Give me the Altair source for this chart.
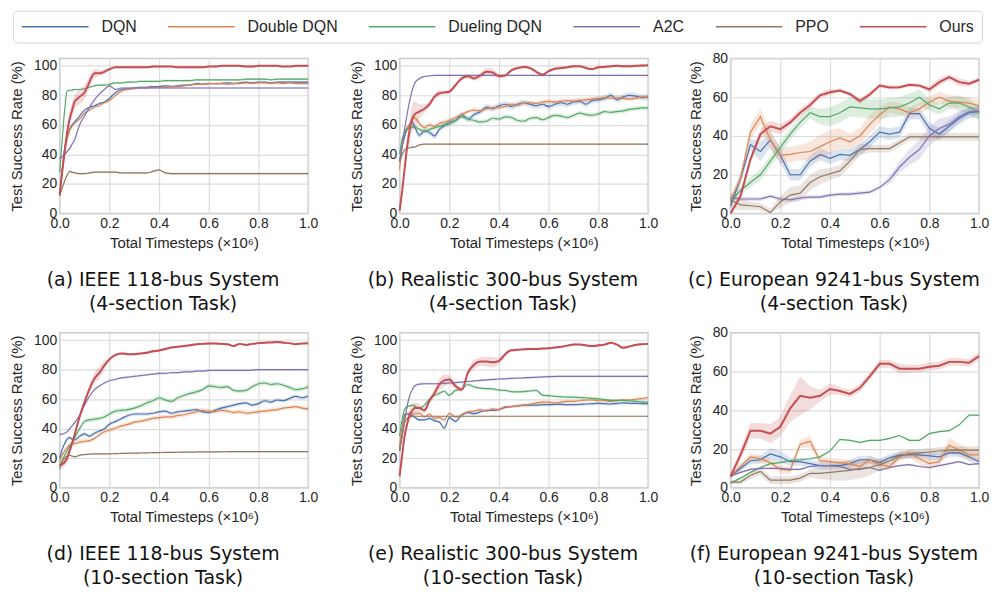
import altair as alt
import pandas as pd

ALGOS = ["DQN", "Double DQN", "Dueling DQN", "A2C", "PPO", "Ours"]
COLORS = ["#4C72B0", "#DD8452", "#55A868", "#8172B3", "#937860", "#C44E52"]
THIN, THICK = 1.2, 2.0

X_TICKS = [0.0, 0.2, 0.4, 0.6, 0.8, 1.0]
Y_TICKS_100 = [0, 20, 40, 60, 80, 100]
Y_TICKS_80 = [0, 20, 40, 60, 80]

X_DENSE = [0.0, 0.01, 0.02, 0.03, 0.04, 0.05, 0.06, 0.08, 0.10, 0.12, 0.14, 0.16, 0.18, 0.20,
           0.225, 0.25, 0.275, 0.30, 0.325, 0.35, 0.375, 0.40,
           0.425, 0.45, 0.475, 0.50, 0.525, 0.55, 0.575, 0.60,
           0.625, 0.65, 0.675, 0.70, 0.725, 0.75, 0.775, 0.80,
           0.825, 0.85, 0.875, 0.90, 0.925, 0.95, 0.975, 1.0]
X_SPARSE = [0.0, 0.04, 0.08, 0.12, 0.16, 0.2, 0.24, 0.28, 0.32, 0.36, 0.4, 0.44, 0.48,
            0.52, 0.56, 0.6, 0.64, 0.68, 0.72, 0.76, 0.8, 0.84, 0.88, 0.92, 0.96, 1.0]

# ---------------- (a) IEEE 118-bus, 4-section ----------------
A_DQN = [12, 30, 44, 52, 57, 60, 62, 66, 70, 72, 73, 74.5, 75.5, 78,
         82, 84, 84.5, 85, 85.5, 85.5, 86, 86,
         86.5, 86, 86.5, 87, 87, 88, 87.5, 88,
         88, 88, 88.5, 88, 88.5, 89, 88.5, 89,
         89, 88.5, 89, 89, 89, 89, 89, 89]
A_DDQN = [12, 28, 42, 50, 56, 59, 61, 64, 68, 70, 72, 73, 75, 76.5,
          80, 83, 84, 84.5, 85, 85, 85.5, 85.5,
          85.5, 86, 86, 86.5, 87, 87.5, 87.5, 88,
          88, 88, 87.5, 88, 88, 88.5, 88, 88.5,
          88.5, 88, 88.5, 88, 88.5, 88, 88, 88]
A_DUEL = [28, 50, 70, 83, 83.5, 83.5, 84, 84, 84.5, 85.5, 86.5, 87, 87, 87.5,
          88.5, 88.5, 89, 89, 89.5, 89.5, 89.5, 89.5,
          90, 90, 90, 90, 90, 90.5, 90.5, 90.5,
          90.5, 90.5, 90.5, 90.5, 90.5, 91, 91, 91,
          91, 90.5, 91, 91, 91, 91, 91, 91]
A_A2C = [37, 38.5, 40, 42, 44, 47, 50, 60, 66, 72, 77, 81, 84, 86.5,
         84, 85, 85, 85, 85, 85, 85, 85,
         85, 85, 85, 85, 85, 85, 85, 85,
         85, 85, 85, 85, 85, 85, 85, 85,
         85, 85, 85, 85, 85, 85, 85, 85]
A_PPO = [12, 17, 22, 26, 28.5, 28, 27.5, 27, 27, 27.5, 28, 28, 28, 28,
         28, 27.5, 27.5, 27.5, 27.5, 27.5, 28.5, 29.5,
         27.5, 27, 27, 27, 27, 27, 27, 27,
         27, 27, 27, 27, 27, 27, 27, 27,
         27, 27, 27, 27, 27, 27, 27, 27]
A_OURS = [13, 28, 42, 55, 64, 70, 75.6, 79, 82, 89, 95, 95, 96, 97.7,
          99, 99, 99, 99, 99, 99, 99.5, 99.5,
          99.5, 99.5, 99, 99, 99, 99, 99, 99.5,
          99.5, 100, 100, 100, 100, 99.5, 99.5, 100,
          100, 100, 100, 99.5, 99.5, 100, 100, 100]
A_OURS_SD = [1, 2, 3, 4, 5, 5, 5, 5, 5, 4, 3, 2, 1.5, 1,
             0.8, 0.8, 0.6, 0.6, 0.6, 0.6, 0.6, 0.6,
             0.6, 0.6, 0.6, 0.6, 0.6, 0.6, 0.6, 0.6,
             0.6, 0.6, 0.6, 0.6, 0.6, 0.6, 0.6, 0.6,
             0.6, 0.6, 0.6, 0.6, 0.6, 0.6, 0.6, 0.6]
A_SPREAD = [0.7, 0.7, 0.7, 0.7, 0.7]

# ---------------- (b) Realistic 300-bus, 4-section ----------------
B_DQN = [35, 45, 52, 57, 60, 62, 59, 53, 56, 55, 52.5, 57, 59.5, 62,
         63, 67, 64, 67, 69, 72, 71, 73,
         74, 72.5, 74, 75, 74, 73, 74, 72.5,
         74, 75, 74, 75.5, 76, 74, 76.5, 77,
         78, 80, 77, 79, 80, 79.5, 78.5, 79]
B_DDQN = [30, 45, 55, 58, 60, 63, 65, 61, 58, 60, 59, 61, 62, 63,
          65, 67, 69, 70, 69.5, 71, 71.5, 72,
          72.5, 74, 73.5, 75, 75, 74.5, 75.5, 76,
          75.5, 76, 76.5, 76, 76.5, 77, 77.5, 78,
          78.5, 78, 78.5, 78, 77.5, 78, 79, 79]
B_DUEL = [40, 50, 55, 57, 58, 58.5, 58.5, 57, 55.5, 57, 58, 59, 60, 60.5,
          63, 65.5, 64, 63, 62, 62.5, 64.5, 64,
          65.5, 65, 63, 62.5, 64.5, 65, 63.5, 65,
          66.5, 66, 65, 66.5, 68, 67, 66.5, 67.5,
          69, 68.5, 69, 69.5, 70.5, 71, 71.5, 71.5]
B_A2C = [35, 45, 57, 67, 76, 83, 88, 91.5, 92.8, 93.2, 93.5, 93.5, 93.5, 93.5,
         93.5, 93.5, 93.5, 93.5, 93.5, 93.5, 93.5, 93.5,
         93.5, 93.5, 93.5, 93.5, 93.5, 93.5, 93.5, 93.5,
         93.5, 93.5, 93.5, 93.5, 93.5, 93.5, 93.5, 93.5,
         93.5, 93.5, 93.5, 93.5, 93.5, 93.5, 93.5, 93.5]
B_PPO = [35, 40, 43, 44, 44.5, 45, 45, 46.5, 47, 47, 47, 47, 47, 47,
         47, 47, 47, 47, 47, 47, 47, 47,
         47, 47, 47, 47, 47, 47, 47, 47,
         47, 47, 47, 47, 47, 47, 47, 47,
         47, 47, 47, 47, 47, 47, 47, 47]
B_OURS = [2, 15, 30, 45, 56, 64, 67, 69, 71, 74, 79, 81.5, 82, 82.5,
          87, 91.5, 93, 91.5, 93.5, 96, 95.5, 93,
          93.5, 97, 98.5, 99.3, 98.5, 96, 94, 96.5,
          98, 98.5, 99, 99.8, 99.8, 98.5, 97.8, 99,
          99.3, 99.8, 100, 99.8, 99.8, 100, 100.2, 100.4]
B_OURS_SD = [1, 2, 4, 6, 8, 9, 9, 5, 3, 2, 2, 2, 1.5, 1.5,
             1.5, 1.5, 1.5, 1.5, 2, 2.5, 2.5, 1.5,
             1, 1, 1, 1, 1, 1, 1, 1,
             1, 1, 1, 1, 1, 1, 1, 1,
             1, 1, 1, 1, 1, 1, 1, 1]
B_SPREAD = [2.0, 1.5, 1.5, 0.5, 0.5]

# ---------------- (c) European 9241-bus, 4-section ----------------
C_DQN = [4, 18, 35.5, 32, 38, 30, 20, 20, 27, 30.5, 28.5, 30.5, 30,
         33, 37, 42, 41, 42, 51.5, 51.5, 44, 41, 45, 49, 52, 52.5]
C_DDQN = [7, 18, 42, 50, 38, 30, 30.5, 31.5, 32, 34.5, 37, 39, 37,
          40, 46, 51, 55, 54, 52, 54, 57.5, 60, 58, 57.5, 57, 55.5]
C_DUEL = [6, 12, 16, 20, 27, 34, 41, 47, 52, 50, 50, 52, 55,
          54.5, 54, 54, 54.5, 55, 57, 60, 56, 54, 57, 57, 55, 52]
C_A2C = [8, 7.5, 7.5, 7.5, 9, 7.5, 7, 8, 8.5, 8.5, 9.5, 10, 10,
         10.5, 11, 13.5, 17.5, 24, 29, 33, 40, 44, 46, 50, 52.5, 53]
C_PPO = [7, 4.5, 4, 3.5, 0.5, 6, 9.5, 10.5, 16, 19, 20.5, 22, 27,
         33, 33.5, 33.5, 33.5, 36.5, 39.5, 39.5, 39.5, 39.5, 39.5, 39.5, 39.5, 39.5]
C_OURS = [0, 9, 28, 41, 45, 43.5, 47, 52, 56, 61, 62.6, 63.5, 61.7,
          58, 61.4, 66, 65, 65.2, 66.4, 66, 64, 67.8, 70.4, 67.8, 67, 69]
C_DQN_SD = [2, 3, 3, 5, 4, 4, 3, 3, 3, 3, 3, 3, 3, 3, 3, 3, 3, 3, 3, 3, 3, 3, 3, 3, 3, 3]
C_DDQN_SD = [2, 3, 4, 4, 5, 4, 4, 4, 5, 6, 6, 5, 4, 4, 5, 4, 3, 3, 3, 3, 3, 3, 3, 3, 3, 3]
C_DUEL_SD = [2, 2, 2.5, 3, 3, 3, 3, 3, 3, 4, 5, 5, 5, 5, 5, 5, 5, 5, 5, 4, 3, 3, 3, 4, 4, 4]
C_A2C_SD = [1, 1, 1, 1, 1, 1, 1, 1, 1, 1, 1, 1, 1, 1, 1, 1, 2, 3, 4, 5, 5, 5, 4, 3, 2, 2]
C_PPO_SD = [4, 3, 2, 2, 2, 3, 4, 4, 4, 4, 3, 3, 3, 3, 2, 2, 2, 2, 2, 2, 2, 2, 2, 2, 2, 2]
C_OURS_SD = [1, 1.5, 2, 2.5, 3, 2.5, 2, 2, 2, 1.5, 1.5, 1, 1, 1.5, 1.5, 1, 1, 1, 1, 1,
             1.5, 2, 1.5, 2, 1.5, 1]

# ---------------- (d) IEEE 118-bus, 10-section ----------------
D_DQN = [20, 26, 30, 33, 34, 33, 32.5, 35, 36.5, 35, 37, 38.5, 40, 43,
         45, 47, 49, 50, 50, 50, 50.5, 51.5,
         52, 50.5, 51.5, 52, 52.5, 53, 51.5, 51,
         52.5, 54, 55, 56, 57, 57.5, 56, 57,
         59, 58, 59.5, 59, 60.5, 62, 61, 62]
D_DDQN = [18, 22, 25, 27, 29, 30, 30, 31, 31.5, 32, 33.5, 36, 38, 39,
          40.5, 42, 43, 44.5, 45, 46, 47, 47.5,
          48, 48, 49, 49.5, 50.5, 51.5, 52.5, 52,
          51.5, 52.5, 52, 51, 51.5, 50.5, 51, 51.5,
          52, 52.5, 53, 54, 54.5, 55, 54, 53.5]
D_DUEL = [13, 18, 22, 25, 28, 31, 34, 40, 45, 46, 46.5, 47, 48, 50,
          52, 52.5, 53, 54, 55.5, 57.5, 59, 61,
          59.5, 58.5, 61, 62.5, 64, 65, 66.5, 69,
          68.5, 68, 68.5, 66, 65.5, 66, 68.5, 70.5,
          71, 70, 70.5, 69.5, 68, 66.5, 67, 68.5]
D_A2C = [36, 36.5, 37, 38, 40, 42, 44, 49, 56, 62, 66.5, 69, 71, 72.5,
         73.5, 74.5, 75, 75.5, 76, 76.5, 77, 77.5,
         77.5, 78, 78, 78.5, 78.5, 79, 79, 79.5,
         79.5, 79.5, 79.5, 79.5, 79.5, 79.5, 79.7, 80,
         80, 80, 80, 80, 80, 80, 80, 80]
D_PPO = [15, 18, 20, 21.5, 22, 21.5, 21, 22, 22.5, 22.8, 23, 23, 23, 23,
         23.2, 23.3, 23.4, 23.5, 23.6, 23.7, 23.8, 23.9,
         24, 24, 24.1, 24.2, 24.2, 24.3, 24.3, 24.4,
         24.4, 24.4, 24.5, 24.5, 24.5, 24.5, 24.5, 24.5,
         24.5, 24.5, 24.5, 24.5, 24.5, 24.5, 24.5, 24.5]
D_OURS = [15, 16, 17.5, 20, 25, 30, 36, 48, 58, 67, 74, 78, 83, 87,
          90, 91, 90.5, 90.5, 91, 91.5, 92.5, 93,
          94, 95, 95.5, 96, 96.5, 97.3, 97.5, 97.7,
          97.7, 97.5, 97.3, 96, 97.5, 96.8, 97.5, 98,
          98.3, 98.5, 98.8, 98.3, 98, 97.3, 97.8, 98]
D_OURS_SD = [3, 3, 3, 3, 2.5, 2, 2, 2, 2, 3, 4, 4, 3, 1.5,
             1, 1, 0.8, 0.8, 0.8, 0.8, 0.8, 0.8,
             0.8, 0.8, 0.8, 0.8, 0.8, 0.8, 0.8, 0.8,
             0.8, 0.8, 0.8, 0.8, 0.8, 0.8, 0.8, 0.8,
             0.8, 0.8, 0.8, 0.8, 0.8, 0.8, 0.8, 0.8]
D_SPREAD = [1.2, 1.5, 1.5, 0.7, 0.5]

# ---------------- (e) Realistic 300-bus, 10-section ----------------
E_DQN = [25, 40, 49.5, 50, 49.5, 49, 48, 46, 46, 47, 45.5, 44.5, 40.5, 47.5,
         45, 49.5, 51, 50.2, 51.5, 52.5, 52.5, 53,
         54.5, 55, 55.5, 56, 56, 56, 56.3, 56.3,
         56.5, 56.5, 56.3, 56.3, 56.5, 56.8, 57, 57.2,
         57, 56.8, 57.2, 57.5, 57.3, 57.2, 57, 57]
E_DDQN = [28, 40, 48, 50, 50.5, 50, 50, 50.5, 48, 50, 47, 47.5, 46, 50.5,
          48, 49, 51.5, 52, 53, 52, 53.5, 53,
          55, 55, 55.5, 56, 56.5, 57.5, 58, 58,
          57.5, 58, 58.5, 58.5, 59, 59.5, 59.5, 59,
          59, 58.5, 59, 59.5, 59.5, 60, 60.5, 61]
E_DUEL = [35, 46, 53, 55, 55.5, 56, 55.5, 54, 56, 60, 62.5, 64, 65.4, 62.7,
          66, 66.8, 70, 68.3, 67.5, 67.2, 67, 66.2,
          66, 65.2, 65, 65.2, 65.6, 66, 62.8, 62.4,
          62, 61.6, 61.5, 61.4, 61.2, 61, 60.6, 60.2,
          59.8, 59.2, 59.2, 59.3, 59, 58.6, 58.2, 58]
E_A2C = [25, 35, 45, 55, 62, 66, 69, 70.3, 70.5, 70.5, 70.5, 70.6, 70.8, 71,
         71.3, 71.6, 72, 72.4, 72.8, 73.1, 73.4, 73.7,
         73.9, 74.1, 74.3, 74.5, 74.7, 74.9, 75.1, 75.3,
         75.4, 75.5, 75.5, 75.5, 75.5, 75.5, 75.5, 75.5,
         75.5, 75.5, 75.5, 75.5, 75.5, 75.5, 75.5, 75.5]
E_PPO = [25, 35, 44, 47, 48, 48.3, 48.5, 48.5, 48.5, 48.5, 48.5, 48.5, 48.5, 48.5,
         48.5, 48.5, 48.5, 48.5, 48.5, 48.5, 48.5, 48.5,
         48.5, 48.5, 48.5, 48.5, 48.5, 48.5, 48.5, 48.5,
         48.5, 48.5, 48.5, 48.5, 48.5, 48.5, 48.5, 48.5,
         48.5, 48.5, 48.5, 48.5, 48.5, 48.5, 48.5, 48.5]
E_OURS = [8, 22, 35, 43, 49, 52, 54, 54, 52.5, 59, 64, 70, 72.8, 73.3,
          69, 66.5, 78, 83.5, 85.5, 85.5, 85, 86,
          90.5, 93.2, 93.5, 93.8, 94, 94, 94.3, 94.5,
          95, 95.5, 96.3, 97, 97, 96.5, 96, 96.5,
          97, 98.2, 97, 94.8, 95.8, 96.8, 97.3, 97.5]
E_OURS_SD = [1, 1, 2, 3, 4, 4, 4, 3, 2, 2, 3, 4, 4, 3,
             2, 1.5, 2, 3, 3, 3.5, 3.5, 2.5,
             1.5, 1, 0.8, 0.8, 0.8, 0.8, 0.8, 0.8,
             0.8, 0.8, 0.8, 0.8, 0.8, 0.8, 0.8, 0.8,
             0.8, 0.8, 0.8, 0.8, 0.8, 0.8, 0.8, 0.8]
E_SPREAD = [1.0, 1.0, 1.0, 0.8, 0.3]

# ---------------- (f) European 9241-bus, 10-section ----------------
F_DQN = [6, 10, 14, 14.5, 17.5, 16, 13.5, 13.5, 12.5, 11.5, 11.5, 11.5, 12.5,
         14.5, 14.5, 13, 15.5, 17, 17, 17, 16.5, 16, 18, 18, 16, 13.5]
F_DDQN = [6, 11, 16, 15, 13, 9.5, 9, 22.5, 24, 14, 13.5, 13, 12.5,
          11, 14.5, 12, 11, 16, 18, 15, 12.5, 13.5, 22, 19.5, 17, 17]
F_DUEL = [2.5, 5, 8, 10.5, 12.5, 13, 14, 14.5, 15, 16, 19, 25, 24.5,
          23.5, 24.5, 24.5, 25.5, 27, 24.5, 24.5, 28, 29, 29.5, 32.5, 37.5, 37.5]
F_A2C = [6, 8, 9.5, 10, 10, 10, 9.5, 9.5, 11, 11.5, 11.5, 11, 9.5,
         9.5, 10.5, 9, 10.5, 11.5, 12, 11, 10.5, 11.5, 12.5, 13.5, 12, 12.5]
F_PPO = [3, 3, 6.5, 8.5, 4, 4, 4, 5, 7.5, 7.5, 8, 8.5, 9,
         10, 10.5, 12, 14, 16.5, 17.5, 18, 18.5, 19, 19.5, 19.5, 19.5, 19.5]
F_OURS = [6, 17, 29.5, 29.5, 28, 31.5, 41, 47.5, 46.5, 47.5, 51, 50, 48.5,
          51.5, 57.5, 64, 64, 61.5, 61.5, 61.5, 62.5, 63, 65, 65, 64.5, 68]
F_DQN_SD = [1, 1.5, 2, 2, 3, 3, 2, 2, 2, 2, 2, 2, 2, 2, 2, 2, 2, 2, 2, 2, 2, 2, 2, 2, 2, 2]
F_DDQN_SD = [1, 1.5, 2, 2, 2, 2, 2, 2, 3, 2, 2, 2, 2, 2, 2, 2, 2, 2, 2, 3, 3, 2, 4, 3, 3, 3]
F_DUEL_SD = 0.5
F_A2C_SD = 0.5
F_PPO_SD = [1, 1, 2, 2, 2, 2, 2, 2, 2, 3, 4, 5, 5, 5, 4, 3, 2, 2, 2, 2, 2, 2, 2, 2, 2, 2]
F_OURS_SD = [1, 3, 4, 4, 5, 5, 7, 10, 6, 3, 3, 2, 2, 2, 2, 2, 2, 2.5, 2, 2, 2, 2, 2, 2, 2, 2]

CAPTIONS = {
    "a": ["(a) IEEE 118-bus System", "(4-section Task)"],
    "b": ["(b) Realistic 300-bus System", "(4-section Task)"],
    "c": ["(c) European 9241-bus System", "(4-section Task)"],
    "d": ["(d) IEEE 118-bus System", "(10-section Task)"],
    "e": ["(e) Realistic 300-bus System", "(10-section Task)"],
    "f": ["(f) European 9241-bus System", "(10-section Task)"],
}

PANELS = {
    "a": (X_DENSE, [A_DQN, A_DDQN, A_DUEL, A_A2C, A_PPO, A_OURS], A_SPREAD + [A_OURS_SD], 105),
    "b": (X_DENSE, [B_DQN, B_DDQN, B_DUEL, B_A2C, B_PPO, B_OURS], B_SPREAD + [B_OURS_SD], 105),
    "c": (X_SPARSE, [C_DQN, C_DDQN, C_DUEL, C_A2C, C_PPO, C_OURS],
          [C_DQN_SD, C_DDQN_SD, C_DUEL_SD, C_A2C_SD, C_PPO_SD, C_OURS_SD], 80),
    "d": (X_DENSE, [D_DQN, D_DDQN, D_DUEL, D_A2C, D_PPO, D_OURS], D_SPREAD + [D_OURS_SD], 105),
    "e": (X_DENSE, [E_DQN, E_DDQN, E_DUEL, E_A2C, E_PPO, E_OURS], E_SPREAD + [E_OURS_SD], 105),
    "f": (X_SPARSE, [F_DQN, F_DDQN, F_DUEL, F_A2C, F_PPO, F_OURS],
          [F_DQN_SD, F_DDQN_SD, F_DUEL_SD, F_A2C_SD, F_PPO_SD, F_OURS_SD], 80),
}

records = []
for key, (xs, ys_list, sd_list, _) in PANELS.items():
    for algo, ys, sd in zip(ALGOS, ys_list, sd_list):
        if len(ys) != len(xs):
            raise ValueError(f"length mismatch {key} {algo}: {len(ys)} vs {len(xs)}")
        if isinstance(sd, list) and len(sd) != len(xs):
            raise ValueError(f"sd length mismatch {key} {algo}: {len(sd)} vs {len(xs)}")
        for i, (x, y) in enumerate(zip(xs, ys)):
            s = sd[i] if isinstance(sd, list) else sd
            records.append({"panel": key, "algo": algo, "x": x, "y": y,
                            "lo": max(y - s, 0), "hi": y + s})
df = pd.DataFrame(records)

LEGEND = alt.Legend(
    title=None, orient="none", legendX=-47, legendY=-48, direction="horizontal",
    symbolType="stroke", symbolSize=4489, symbolStrokeWidth=1.5,
    symbolOpacity=1, clipHeight=16, labelFont="Liberation Sans", labelFontSize=16,
    labelColor="#262626", labelOffset=12, columnPadding=30, padding=8,
    strokeColor="#d6d6d6", fillColor="white", cornerRadius=4,
)

W, H = 250, 156
COLOR_SCALE = alt.Scale(domain=ALGOS, range=COLORS)


def panel(key):
    xs, _, _, ymax = PANELS[key]
    interp = "linear" if key in ("c", "f") else "monotone"
    yticks = Y_TICKS_80 if ymax == 80 else Y_TICKS_100
    base = alt.Chart(df[df["panel"] == key])
    xenc = alt.X("x:Q", scale=alt.Scale(domain=[0, 1], nice=False, zero=False),
                 axis=alt.Axis(values=X_TICKS, format=".1f", title="Total Timesteps (×10⁶)"))
    yscale = alt.Scale(domain=[0, ymax], nice=False)
    yaxis = alt.Axis(values=yticks, title="Test Success Rate (%)")
    layers = []
    for algo, col in zip(ALGOS, COLORS):
        layers.append(
            base.transform_filter(alt.datum.algo == algo)
            .mark_area(color=col, opacity=0.2, interpolate=interp)
            .encode(x=xenc, y=alt.Y("lo:Q", scale=yscale, axis=yaxis), y2="hi:Q")
        )
    thin = base.mark_line(interpolate=interp, strokeWidth=THIN).encode(
        x=xenc,
        y=alt.Y("y:Q", scale=yscale, axis=yaxis),
        color=alt.Color("algo:N", scale=COLOR_SCALE, legend=LEGEND),
    ).transform_filter(alt.datum.algo != "Ours")
    thick = base.mark_line(interpolate=interp, strokeWidth=THICK).encode(
        x=xenc,
        y=alt.Y("y:Q", scale=yscale, axis=yaxis),
        color=alt.Color("algo:N", scale=COLOR_SCALE, legend=LEGEND),
    ).transform_filter(alt.datum.algo == "Ours")
    layers += [thin, thick]
    return alt.layer(*layers).properties(
        width=W, height=H,
        title=alt.TitleParams(text=CAPTIONS[key], orient="bottom", anchor="middle", dx=-21),
    )


row1 = alt.hconcat(panel("a"), alt.hconcat(panel("b"), panel("c"), spacing=83, bounds="flush"),
                   spacing=92, bounds="flush")
row2 = alt.hconcat(panel("d"), alt.hconcat(panel("e"), panel("f"), spacing=83, bounds="flush"),
                   spacing=92, bounds="flush")

chart = alt.vconcat(row1, row2, spacing=276, bounds="flush").properties(
    padding=0, background="white"
).configure_axis(
    labelFont="Liberation Sans", labelFontSize=14, labelColor="#262626",
    titleFont="Liberation Sans", titleFontSize=15, titleFontWeight="normal",
    titleColor="#262626", domain=False, ticks=False, grid=True,
    gridColor="#dcdcdc", gridWidth=1.2, labelPadding=3, titlePadding=5,
    labelFlush=False, labelOverlap=False,
).configure_axisY(
    titlePadding=9
).configure_view(
    stroke="#cccccc", strokeWidth=1.5
).configure_title(
    font="DejaVu Sans", fontSize=19, fontWeight="normal", color="#111111",
    lineHeight=24, offset=21,
)

chart.save("out.html", embed_options={"renderer": "svg", "actions": False})
